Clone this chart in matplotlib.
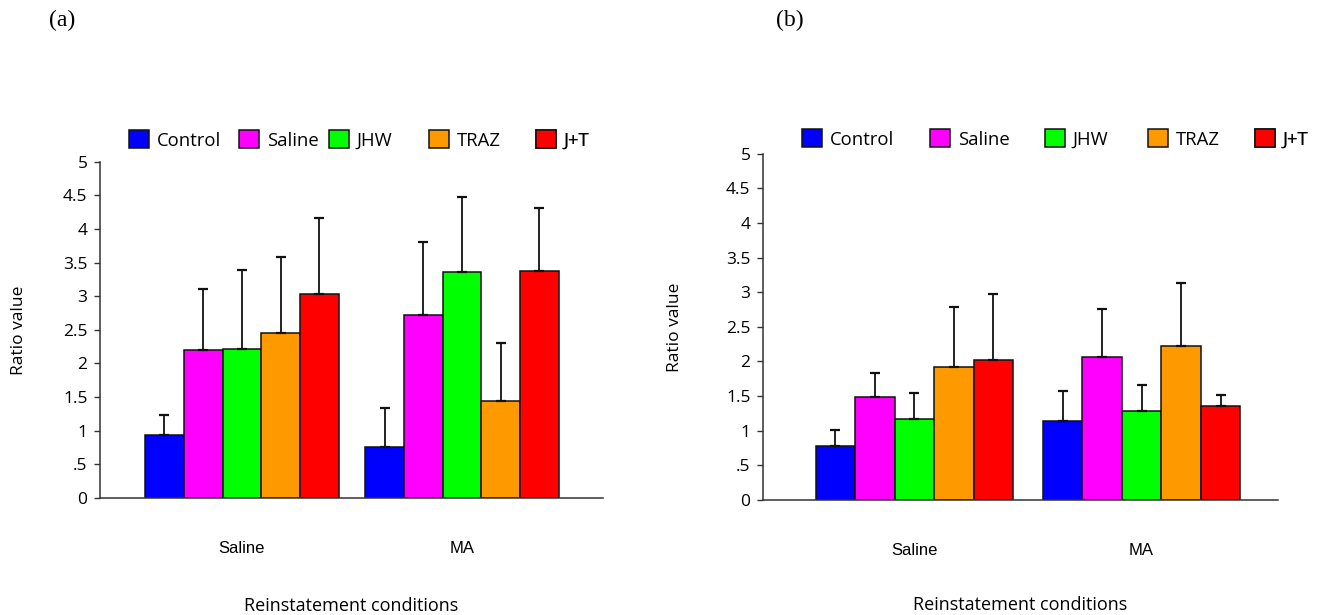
import numpy as np
import matplotlib.pyplot as plt
from matplotlib.patches import Patch

# data
groups = ['Saline', 'MA']
treatments = ['Control', 'Saline', 'JHW', 'TRAZ', 'J+T']
colors = ['#0000ff', '#ff00ff', '#00ff00', '#ff9900', '#ff0000']

# panel (a): mean and upper error (sd) per treatment, for Saline / MA
a_means = [[0.93, 0.76], [2.20, 2.72], [2.22, 3.36], [2.46, 1.44], [3.03, 3.37]]
a_errs = [[0.30, 0.58], [0.90, 1.09], [1.17, 1.11], [1.12, 0.86], [1.13, 0.94]]

# panel (b)
b_means = [[0.78, 1.14], [1.49, 2.07], [1.17, 1.29], [1.92, 2.23], [2.02, 1.36]]
b_errs = [[0.23, 0.44], [0.34, 0.69], [0.38, 0.37], [0.86, 0.91], [0.95, 0.16]]

yticks = [0, 0.5, 1, 1.5, 2, 2.5, 3, 3.5, 4, 4.5, 5]
ytick_labels = ['0', '.5', '1', '1.5', '2', '2.5', '3', '3.5', '4', '4.5', '5']

plt.rcParams['font.family'] = ['Open Sans', 'DejaVu Sans']

W, H = 1317, 615
fig = plt.figure(figsize=(W / 100, H / 100), dpi=100)

ax1 = fig.add_axes([0.0759, 0.1902, 0.382, 0.547])
ax2 = fig.add_axes([0.5793, 0.187, 0.391, 0.563])


def draw_panel(ax, means, errs, width, xlim, ylab_x, xlab_y, leg_x, leg_y):
    x = np.arange(len(groups))
    n = len(treatments)
    for i, name in enumerate(treatments):
        pos = x + (i - (n - 1) / 2) * width
        ax.bar(pos, means[i], width, color=colors[i], edgecolor='#111111',
               linewidth=1.1, zorder=2)
        ax.errorbar(pos, means[i], yerr=[np.zeros(len(groups)), errs[i]],
                    fmt='none', ecolor='#111111', elinewidth=1.3,
                    capsize=3.5, capthick=1.6, zorder=3)
    ax.set_xlim(*xlim)
    ax.set_ylim(0, 5)
    ax.set_yticks(yticks)
    ax.set_yticklabels(ytick_labels)
    ax.set_xticks(x)
    ax.set_xticklabels(groups, family='Liberation Sans', fontsize=12)
    ax.tick_params(axis='x', length=0, pad=31)
    ax.tick_params(axis='y', length=4, width=1, pad=5, labelsize=12.5,
                   color='#333333')
    for s in ['top', 'right']:
        ax.spines[s].set_visible(False)
    for s in ['left', 'bottom']:
        ax.spines[s].set_color('#333333')
        ax.spines[s].set_linewidth(1.1)
    ax.set_ylabel('Ratio value', fontsize=12.5)
    ax.yaxis.set_label_coords(ylab_x, 0.5)
    ax.set_xlabel('Reinstatement conditions', fontsize=13)
    ax.xaxis.set_label_coords(0.5, xlab_y)

    # one small legend per treatment, spaced like the original
    for c, name, lx in zip(colors, treatments, leg_x):
        h = Patch(facecolor=c, edgecolor='#111111', linewidth=1.1)
        leg = ax.legend([h], [name], frameon=False, fontsize=13.3,
                        loc='center left', bbox_to_anchor=(lx / W, 1 - leg_y / H),
                        bbox_transform=fig.transFigure,
                        handlelength=1.1, handleheight=1.1, handletextpad=0.4,
                        borderpad=0, borderaxespad=0)
        ax.add_artist(leg)


draw_panel(ax1, a_means, a_errs, 0.176, (-0.645, 1.641), -0.145, -0.294,
           [129, 239, 329, 429, 536], 140)
draw_panel(ax2, b_means, b_errs, 0.174, (-0.667, 1.60), -0.155, -0.277,
           [802, 930, 1045, 1148, 1255], 139)

fig.text(62 / W, 1 - 20 / H, '(a)', family='Liberation Serif',
         fontsize=17, ha='center', va='center')
fig.text(790 / W, 1 - 20 / H, '(b)', family='Liberation Serif',
         fontsize=17, ha='center', va='center')

fig.savefig('out.png', dpi=100)
